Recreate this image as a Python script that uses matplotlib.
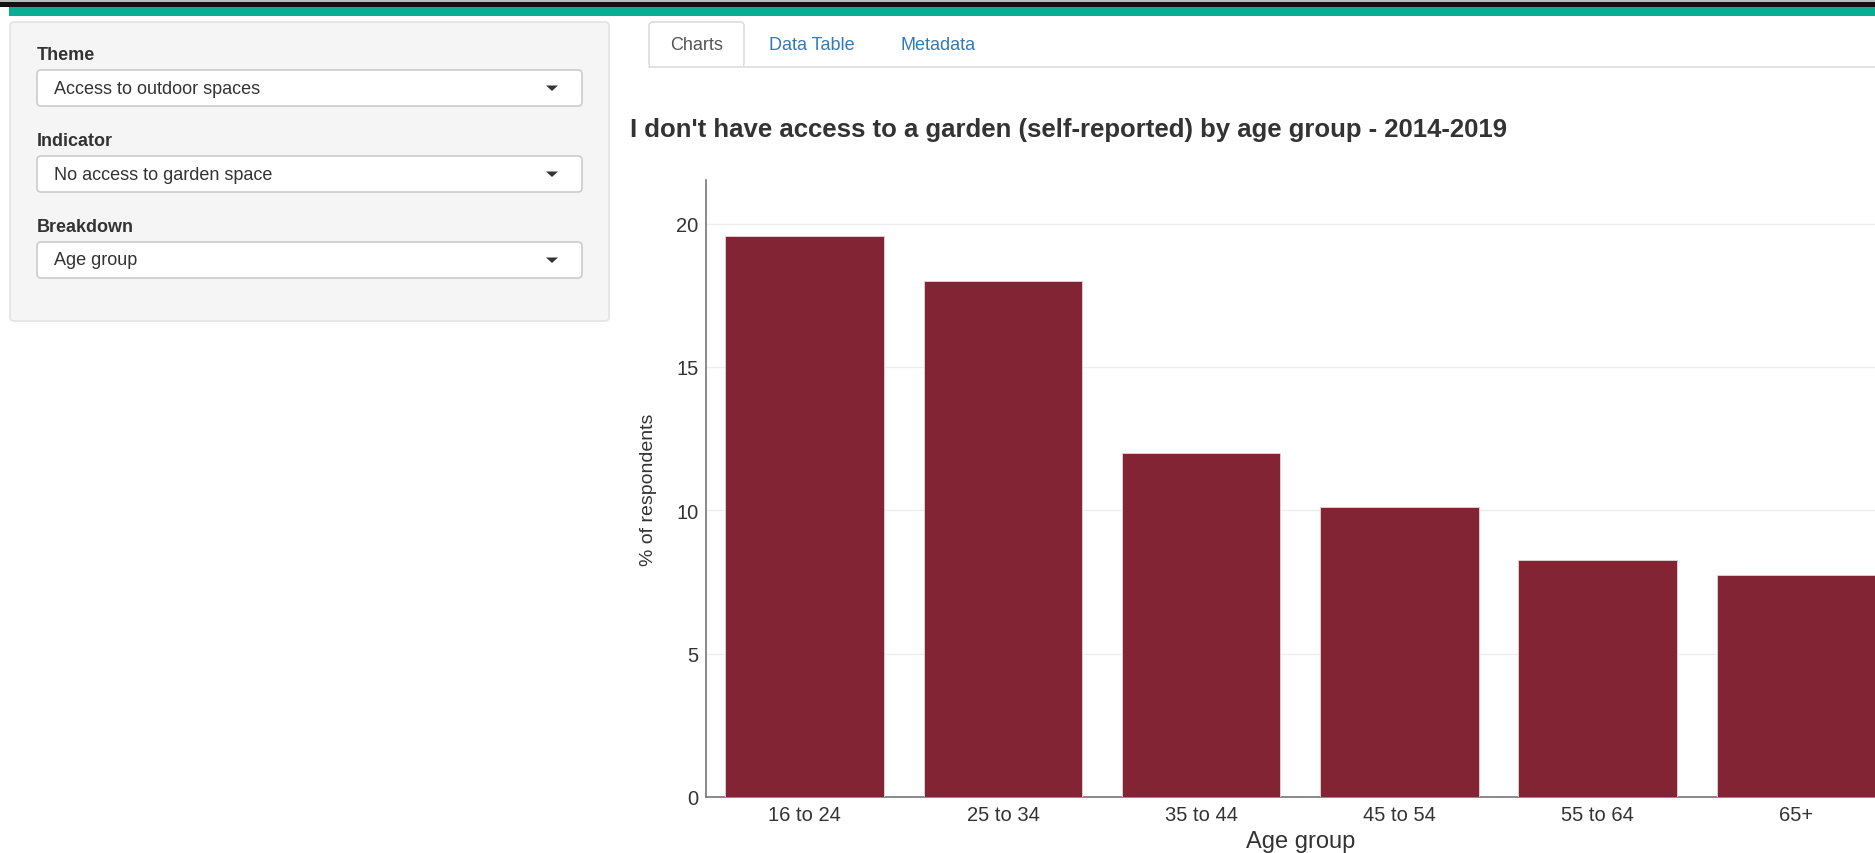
import matplotlib
matplotlib.use("Agg")
import matplotlib.pyplot as plt
from matplotlib.patches import FancyBboxPatch, Rectangle, Polygon
from matplotlib import font_manager

# Data
age_groups = ["16 to 24", "25 to 34", "35 to 44", "45 to 54", "55 to 64", "65+"]
pct_no_garden = [19.55, 18.0, 12.0, 10.13, 8.28, 7.75]
y_ticks = [0, 5, 10, 15, 20]

# Side panel selections
panel_labels = ["Theme", "Indicator", "Breakdown"]
panel_values = ["Access to outdoor spaces", "No access to garden space", "Age group"]
tab_names = ["Charts", "Data Table", "Metadata"]

title = "I don't have access to a garden (self-reported) by age group - 2014-2019"

W, H = 1875, 854
bar_color = "#822433"
teal = "#0aad93"
link_blue = "#337ab7"

plt.rcParams["font.family"] = ["Liberation Sans", "DejaVu Sans"]
names = {f.name for f in font_manager.fontManager.ttflist}
narrow = "Liberation Sans Narrow" if "Liberation Sans Narrow" in names else "Liberation Sans"

fig = plt.figure(figsize=(W / 100, H / 100), dpi=100)
fig.patch.set_facecolor("white")

# --- page layer, in pixel coordinates ---
ui = fig.add_axes([0, 0, 1, 1], zorder=0)
ui.set_xlim(0, W)
ui.set_ylim(H, 0)
ui.axis("off")

# top banner
ui.add_patch(Rectangle((0, 0), W, 2.5, color="#bbbbbb", lw=0))
ui.add_patch(Rectangle((0, 2.5), W, 5, color="#111111", lw=0))
ui.add_patch(Rectangle((9, 7.5), W - 9, 9.5, color=teal, lw=0))

# side panel
ui.add_patch(FancyBboxPatch((10, 23), 599, 299, boxstyle="round,pad=0,rounding_size=4",
                            fc="#f5f5f5", ec="#e3e3e3", lw=1.2))
for i, (lab, val) in enumerate(zip(panel_labels, panel_values)):
    y0 = 55 + i * 86
    ui.text(37, y0, lab, fontsize=13, fontweight="bold", color="#333333", va="center")
    box_top = y0 + 16
    ui.add_patch(FancyBboxPatch((37, box_top), 545, 36, boxstyle="round,pad=0,rounding_size=4",
                                fc="white", ec="#cccccc", lw=1.2))
    ui.text(54, box_top + 18, val, fontsize=13, color="#333333", va="center")
    cx, cy = 552, box_top + 18
    ui.add_patch(Polygon([(cx - 6, cy - 2.5), (cx + 6, cy - 2.5), (cx, cy + 3)],
                         closed=True, fc="#333333", ec="none"))

# tabs
ui.plot([649, W], [68, 68], color="#dddddd", lw=1.2)
ui.add_patch(FancyBboxPatch((649, 23), 95, 45, boxstyle="round,pad=0,rounding_size=4",
                            fc="white", ec="#dddddd", lw=1.2))
ui.add_patch(Rectangle((650, 60), 93, 9, color="white", lw=0))
tab_x = [697, 812, 938]
for name, tx in zip(tab_names, tab_x):
    ui.text(tx, 45, name, fontsize=13, ha="center", va="center",
            color="#555555" if name == "Charts" else link_blue)

# chart title
ui.text(630, 130, title, fontsize=18.5, fontweight="bold", color="#333333", va="center")

# --- bar chart ---
left, right = 705.6, 1895
bottom, top = 798, 180.7
ax = fig.add_axes([left / W, 1 - bottom / H, (right - left) / W, (bottom - top) / H], zorder=1)
ax.set_facecolor("none")

x = range(len(age_groups))
ax.bar(x, pct_no_garden, width=0.8, color=bar_color, edgecolor="#e8d4d8", linewidth=0.6, zorder=3)

ax.set_xlim(-0.5, len(age_groups) - 0.5)
ax.set_ylim(0, 21.53)
ax.set_yticks(y_ticks)
ax.set_xticks(list(x))
ax.set_xticklabels(age_groups)
ax.tick_params(axis="both", length=0, labelsize=14.5, colors="#333333")
ax.tick_params(axis="x", pad=6)
ax.tick_params(axis="y", pad=5)
ax.grid(axis="y", color="#eeeeee", lw=1, zorder=0)

for s in ["top", "right"]:
    ax.spines[s].set_visible(False)
for s in ["left", "bottom"]:
    ax.spines[s].set_color("#777777")
    ax.spines[s].set_linewidth(1.2)

ax.set_xlabel("Age group", fontsize=17, color="#333333", labelpad=4)
ax.set_ylabel("% of respondents", fontsize=14, color="#333333", labelpad=14, family=[narrow, "DejaVu Sans"])

fig.savefig("out.png", dpi=100, facecolor="white")
